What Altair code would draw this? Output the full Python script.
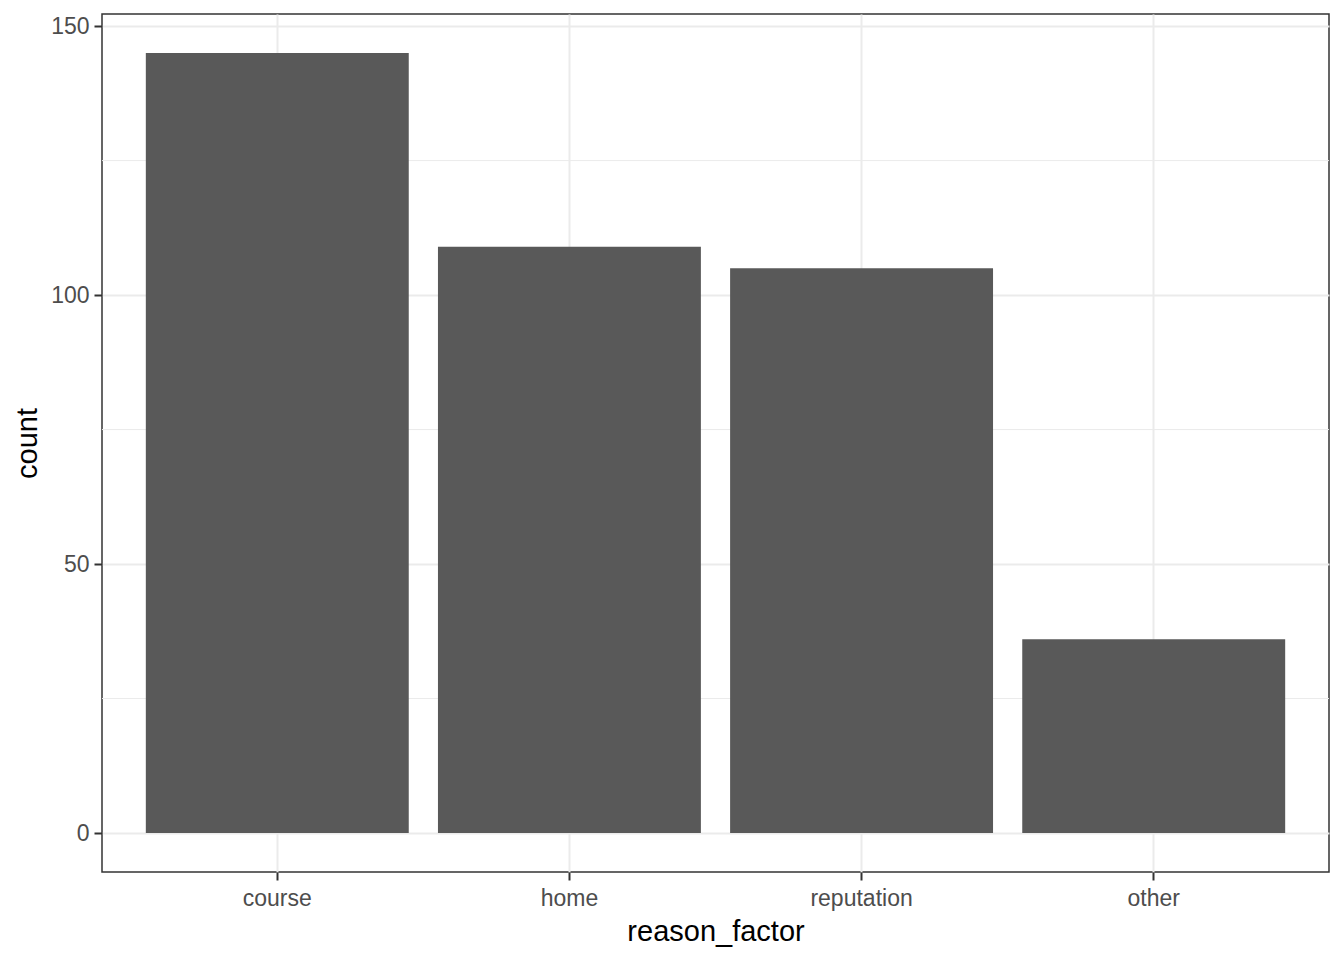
import altair as alt
import pandas as pd

categories = ["course", "home", "reputation", "other"]
counts = [145, 109, 105, 36]
minor_ticks = [25, 75, 125]
major_ticks = [0, 50, 100, 150]

df = pd.DataFrame({"reason_factor": categories, "count": counts})
minor_df = pd.DataFrame({"v": minor_ticks})

FONT = "Liberation Sans"
ydom = [-7.25, 152.25]

xscale = alt.Scale(domain=categories, paddingInner=0.1, paddingOuter=0.15)
yscale = alt.Scale(domain=ydom, nice=False, zero=False)

yaxis = alt.Axis(
    title="count",
    values=major_ticks,
    grid=True,
    gridColor="#EBEBEB",
    gridWidth=2,
    tickColor="#333333",
    tickWidth=2,
    tickSize=8,
    domain=False,
    labelFont=FONT,
    labelFontSize=23,
    labelColor="#4D4D4D",
    labelPadding=5,
    titleFont=FONT,
    titleFontSize=29,
    titleFontWeight="normal",
    titleColor="#000000",
    titlePadding=8,
)

minor = alt.Chart(minor_df).mark_rule(color="#EBEBEB", strokeWidth=1).encode(
    y=alt.Y("v:Q", scale=yscale, axis=yaxis, title="count")
)

bars = alt.Chart(df).mark_bar(color="#595959").encode(
    x=alt.X(
        "reason_factor:N",
        scale=xscale,
        sort=categories,
        axis=alt.Axis(
            title="reason_factor",
            labelAngle=0,
            bandPosition=0.5,
            grid=True,
            gridColor="#EBEBEB",
            gridWidth=2,
            tickColor="#333333",
            tickWidth=2,
            tickSize=8,
            domain=False,
            labelFont=FONT,
            labelFontSize=23,
            labelColor="#4D4D4D",
            labelPadding=7,
            titleFont=FONT,
            titleFontSize=29,
            titleFontWeight="normal",
            titleColor="#000000",
            titlePadding=7,
        ),
    ),
    y=alt.Y("count:Q", scale=yscale, axis=yaxis, title="count"),
)

chart = (
    alt.layer(minor, bars)
    .properties(
        width=1227,
        height=858,
        padding={"left": 94, "top": 6, "right": 7, "bottom": 80},
        autosize=alt.AutoSizeParams(type="none"),
        background="white",
    )
    .configure_view(stroke="#333333", strokeWidth=1.5)
)

chart.save("out.html", embed_options={"renderer": "svg", "actions": False})
